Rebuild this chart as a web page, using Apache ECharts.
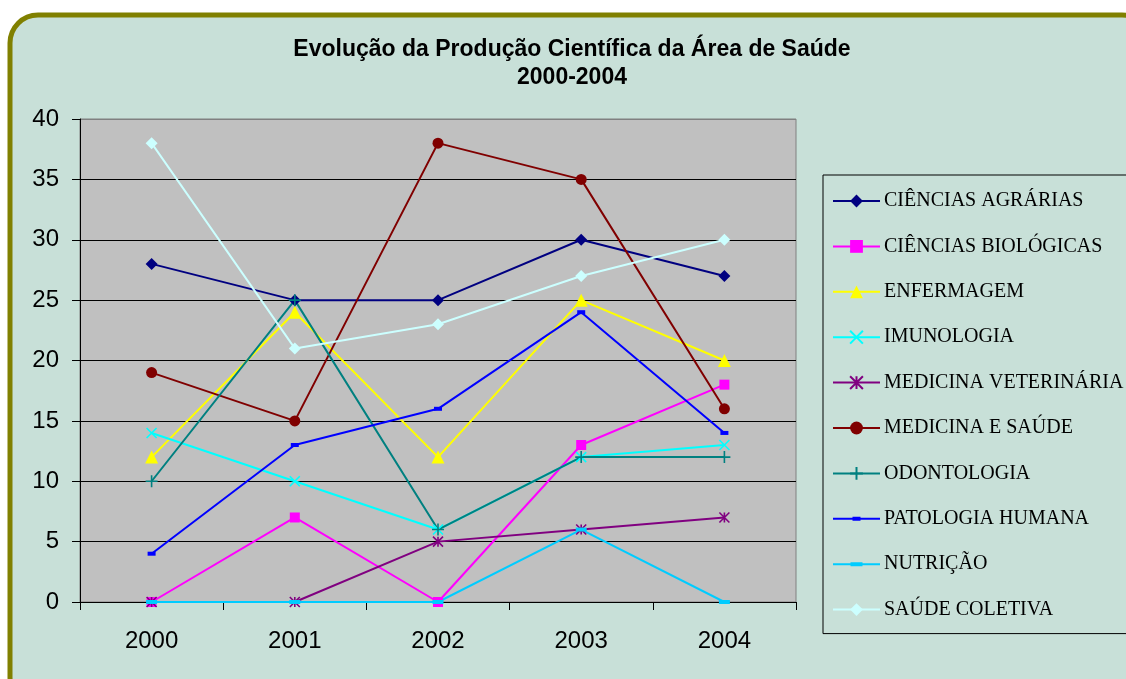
<!DOCTYPE html>
<html>
<head>
<meta charset="utf-8">
<script src="https://cdn.jsdelivr.net/npm/echarts@6/dist/echarts.min.js"></script>
<style>
html,body{margin:0;padding:0;background:#ffffff;}
#chart{width:1126px;height:679px;}
</style>
</head>
<body>
<div id="chart"></div>
<script>
var years = ['2000', '2001', '2002', '2003', '2004'];
var yTicks = [0, 5, 10, 15, 20, 25, 30, 35, 40];

var cienciasAgrarias    = [28, 25, 25, 30, 27];
var cienciasBiologicas  = [0, 7, 0, 13, 18];
var enfermagem          = [12, 24, 12, 25, 20];
var imunologia          = [14, 10, 6, 12, 13];
var medicinaVeterinaria = [0, 0, 5, 6, 7];
var medicinaSaude       = [19, 15, 38, 35, 16];
var odontologia         = [10, 25, 6, 12, 12];
var patologiaHumana     = [4, 13, 16, 24, 14];
var nutricao            = [0, 0, 0, 6, 0];
var saudeColetiva       = [38, 21, 23, 27, 30];

var seriesNames = ['CIÊNCIAS AGRÁRIAS', 'CIÊNCIAS BIOLÓGICAS', 'ENFERMAGEM', 'IMUNOLOGIA',
  'MEDICINA VETERINÁRIA', 'MEDICINA E SAÚDE', 'ODONTOLOGIA', 'PATOLOGIA HUMANA', 'NUTRIÇÃO', 'SAÚDE COLETIVA'];
var seriesData = [cienciasAgrarias, cienciasBiologicas, enfermagem, imunologia, medicinaVeterinaria,
  medicinaSaude, odontologia, patologiaHumana, nutricao, saudeColetiva];
var seriesColors = ['#000080', '#FF00FF', '#FFFF00', '#00FFFF', '#800080',
  '#800000', '#008080', '#0000FF', '#00CCFF', '#CCFFFF'];

var X_PATH = 'path://M0,0L10,10M10,0L0,10';
var AST_PATH = 'path://M0,0L10,10M10,0L0,10M5,0L5,10';
var PLUS_PATH = 'path://M5,0L5,10M0,5L10,5';
// legend icons (line + small dash) for the two dash-marker series
var LEG_DASH_SMALL = 'path://M0,0L0.01,0L0.01,0.01Z M47,16L46.99,16L46.99,15.99Z M0,7L47,7L47,9L0,9Z M19.5,6L27.5,6L27.5,10L19.5,10Z';
var LEG_DASH_WIDE = 'path://M0,0L0.01,0L0.01,0.01Z M47,16L46.99,16L46.99,15.99Z M0,7L47,7L47,9L0,9Z M17.5,6L29.5,6L29.5,10L17.5,10Z';

var symbols = [
  {symbol: 'diamond', size: 12, stroke: false},
  {symbol: 'rect', size: 10, stroke: false},
  {symbol: 'triangle', size: 13, stroke: false},
  {symbol: X_PATH, size: 10, stroke: true},
  {symbol: AST_PATH, size: 10, stroke: true},
  {symbol: 'circle', size: 11, stroke: false},
  {symbol: PLUS_PATH, size: 12, stroke: true},
  {symbol: 'rect', size: [8, 4], stroke: false},
  {symbol: 'rect', size: [11, 4], stroke: false},
  {symbol: 'diamond', size: 12, stroke: false}
];

var series = seriesNames.map(function (name, i) {
  var s = symbols[i];
  return {
    name: name,
    type: 'line',
    data: seriesData[i],
    symbol: s.symbol,
    symbolSize: s.size,
    showAllSymbol: true,
    lineStyle: {color: seriesColors[i], width: 2},
    itemStyle: s.stroke ? {color: seriesColors[i], borderColor: seriesColors[i], borderWidth: 1.6}
                        : {color: seriesColors[i], borderWidth: 0},
    emphasis: {disabled: true},
    animation: false
  };
});

var legendData = seriesNames.map(function (name, i) {
  if (i === 7) return {name: name, icon: LEG_DASH_SMALL};
  if (i === 8) return {name: name, icon: LEG_DASH_WIDE};
  return {name: name};
});

var chart = echarts.init(document.getElementById('chart'), null, {renderer: 'canvas'});
chart.setOption({
  backgroundColor: '#ffffff',
  animation: false,
  graphic: [{
    type: 'rect',
    z: -10,
    shape: {x: 10, y: 15, width: 1140, height: 690, r: 28},
    style: {fill: '#C8E0D8', stroke: '#808000', lineWidth: 5}
  }],
  title: {
    text: 'Evolução da Produção Científica da Área de Saúde\n2000-2004',
    left: 572,
    textAlign: 'center',
    top: 36,
    padding: 0,
    textStyle: {fontFamily: 'Liberation Sans, Arial, sans-serif', fontWeight: 'bold', fontSize: 23, lineHeight: 28, color: '#000'}
  },
  legend: {
    orient: 'vertical',
    left: 823,
    top: 175,
    padding: [16, 30, 14, 9],
    backgroundColor: '#C8E0D8',
    borderColor: '#000000',
    borderWidth: 1,
    borderRadius: 0,
    itemWidth: 47,
    itemHeight: 16,
    itemGap: 25.4,
    data: legendData,
    textStyle: {fontFamily: 'Liberation Serif, Times New Roman, serif', fontSize: 20, lineHeight: 20, color: '#000', padding: [0, 0, 0, -1]}
  },
  grid: {
    left: 80, right: 330, top: 119, bottom: 77,
    show: true, backgroundColor: '#C0C0C0', borderColor: '#808080', borderWidth: 1,
    containLabel: false
  },
  xAxis: {
    type: 'category',
    data: years,
    boundaryGap: true,
    axisLine: {lineStyle: {color: '#000', width: 1}},
    axisTick: {show: true, length: 8, inside: false, lineStyle: {color: '#000'}},
    axisLabel: {fontFamily: 'Liberation Sans, Arial, sans-serif', fontSize: 24, color: '#000', margin: 27},
    splitLine: {show: false}
  },
  yAxis: {
    type: 'value',
    min: yTicks[0],
    max: yTicks[yTicks.length - 1],
    interval: 5,
    axisLine: {show: true, lineStyle: {color: '#000', width: 1}},
    axisTick: {show: true, length: 8, lineStyle: {color: '#000'}},
    axisLabel: {fontFamily: 'Liberation Sans, Arial, sans-serif', fontSize: 24, color: '#000', margin: 21},
    splitLine: {show: true, lineStyle: {color: ['#000', '#000', '#000', '#000', '#000', '#000', '#000', '#000', '#808080'], width: 1}}
  },
  series: series
});
</script>
</body>
</html>
